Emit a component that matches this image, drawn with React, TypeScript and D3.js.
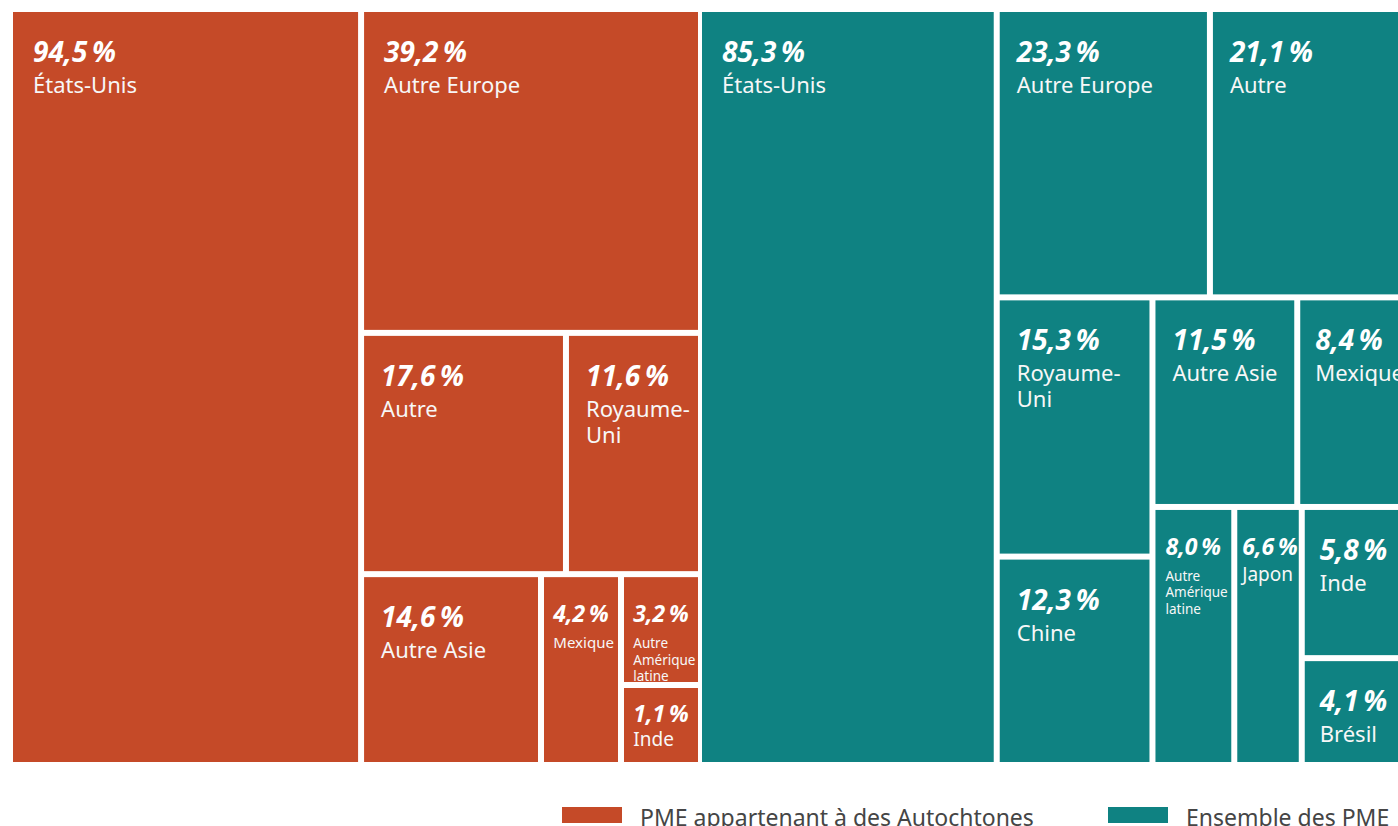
import React from "react";
import * as d3 from "d3";

// PME appartenant à des Autochtones
const autochtonesNames = ["États-Unis", "Autre Europe", "Autre", "Royaume-Uni", "Autre Asie", "Mexique", "Autre Amérique latine", "Inde"];
const autochtonesValues = [94.5, 39.2, 17.6, 11.6, 14.6, 4.2, 3.2, 1.1];
// nesting of the blocks (indices into the arrays above)
const autochtonesTree: any = [0, [1, [2, 3], [4, 5, [6, 7]]]];

// Ensemble des PME
const ensembleNames = ["États-Unis", "Autre Europe", "Autre", "Royaume-Uni", "Chine", "Autre Asie", "Mexique", "Autre Amérique latine", "Japon", "Inde", "Brésil"];
const ensembleValues = [85.3, 23.3, 21.1, 15.3, 12.3, 11.5, 8.4, 8.0, 6.6, 5.8, 4.1];
const ensembleTree: any = [0, [[1, 2], [[3, 4], [[5, 6], [7, 8, [9, 10]]]]]];

const legendLabels = ["PME appartenant à des Autochtones", "Ensemble des PME"];
const colors = ["#c54a28", "#0f8282"];

const FONT = "'Noto Sans', 'Open Sans', sans-serif";
// blocks too thin for their label are widened (sizes include the gap)
const TOO_THIN = 65;
const MIN_EXTENT = 80;

type Leaf = { name: string; value: number };

const buildTree = (node: any, names: string[], values: number[]): any =>
  Array.isArray(node)
    ? { children: node.map((n) => buildTree(n, names, values)) }
    : { name: names[node], value: values[node] };

// slice/dice alternating by depth, with a floor for the tiniest blocks
const tileMin = (parent: any, x0: number, y0: number, x1: number, y1: number) => {
  const horizontal = !(parent.depth & 1);
  const kids = parent.children;
  const total = horizontal ? x1 - x0 : y1 - y0;
  const sizes: (number | null)[] = kids.map((k: any) =>
    (total * k.value) / parent.value < TOO_THIN ? MIN_EXTENT : null
  );
  const fixed = d3.sum(sizes, (s) => s || 0);
  const freeVal = d3.sum(kids, (k: any, i: number) => (sizes[i] === null ? k.value : 0));
  let pos = horizontal ? x0 : y0;
  kids.forEach((k: any, i: number) => {
    const s = sizes[i] !== null ? (sizes[i] as number) : ((total - fixed) * k.value) / freeVal;
    if (horizontal) {
      k.x0 = pos; k.x1 = pos + s; k.y0 = y0; k.y1 = y1;
    } else {
      k.y0 = pos; k.y1 = pos + s; k.x0 = x0; k.x1 = x1;
    }
    pos += s;
  });
};

let ctx: CanvasRenderingContext2D | null = null;
const measure = (text: string, font: string) => {
  if (!ctx) ctx = document.createElement("canvas").getContext("2d");
  if (!ctx) return text.length * 10;
  ctx.font = font;
  return ctx.measureText(text).width;
};

const wrap = (name: string, maxW: number, font: string) => {
  const tokens = name.match(/[^ -]+-?/g) || [name];
  const lines: string[] = [];
  let cur = "";
  tokens.forEach((t) => {
    const next = cur === "" ? t : cur.endsWith("-") ? cur + t : cur + " " + t;
    if (cur !== "" && measure(next, font) > maxW) {
      lines.push(cur);
      cur = t;
    } else cur = next;
  });
  lines.push(cur);
  return lines;
};

const fmt = (v: number) => v.toFixed(1).replace(".", ",") + "\u202F%";

const Treemap = (props: { names: string[]; values: number[]; tree: any; x: number; y: number; w: number; h: number; color: string }) => {
  const { names, values, tree, x, y, w, h, color } = props;
  const root = d3.hierarchy<any>(buildTree(tree, names, values)).sum((d) => d.value || 0);
  d3.treemap<any>().tile(tileMin as any).size([w, h]).paddingInner(6)(root);
  const leaves = root.leaves() as d3.HierarchyRectangularNode<Leaf>[];
  return (
    <g transform={`translate(${x},${y})`}>
      {leaves.map((d, i) => {
        const bw = d.x1 - d.x0;
        const bh = d.y1 - d.y0;
        const big = bw >= 85;
        const short = bh < 90;
        const pctSize = big ? 28 : 23;
        const pctText = fmt(d.data.value);
        let pad = big ? (bw > 250 ? 20 : bw > 120 ? 17 : 15) : 10;
        if (!big) {
          const pw = measure(pctText, `italic 700 ${pctSize}px ${FONT}`);
          pad = Math.max(5, Math.min(10, (bw - pw) / 2));
        }
        let nameSize = big ? 22 : 14;
        const nameFont = (s: number) => `400 ${s}px ${FONT}`;
        let lines = wrap(d.data.name, big ? bw - pad - 6 : bw - pad - 2, nameFont(nameSize));
        if (!big && lines.length > 1) {
          nameSize = 13.5;
          lines = wrap(d.data.name, bw - pad - 2, nameFont(nameSize));
        } else if (!big) {
          nameSize = Math.min(19, Math.max(13, (bw - pad - 4) / (measure(d.data.name, nameFont(1)) || 1)));
        }
        const pctY = big ? 50 : short ? 34 : 45;
        const nameY = big ? 81 : short ? 58 : 71;
        const lh = big ? 26 : 16.5;
        return (
          <g key={i} transform={`translate(${d.x0},${d.y0})`}>
            <rect width={bw} height={bh} fill={color} />
            <text x={pad} y={pctY} fill="#fff" fontFamily={FONT} fontWeight={700} fontStyle="italic" fontSize={pctSize}>
              {pctText}
            </text>
            <text fill="#f7f7f7" fontFamily={FONT} fontSize={nameSize}>
              {lines.map((l, j) => (
                <tspan key={j} x={pad} y={nameY + j * lh}>
                  {l}
                </tspan>
              ))}
            </text>
          </g>
        );
      })}
    </g>
  );
};

const App = () => {
  const width = 1390;
  const height = 818;
  const legendX = [554, 1100];
  // let the page reach the right edge of the window, the chart runs off it
  React.useLayoutEffect(() => {
    document.body.style.marginRight = "0";
  }, []);
  return (
    <svg width={width} height={height} style={{ display: "block" }}>
      <Treemap names={autochtonesNames} values={autochtonesValues} tree={autochtonesTree} x={5} y={4} w={685} h={750} color={colors[0]} />
      <Treemap names={ensembleNames} values={ensembleValues} tree={ensembleTree} x={694} y={4} w={698} h={750} color={colors[1]} />
      {legendLabels.map((l, i) => (
        <g key={l} transform={`translate(${legendX[i]},799)`}>
          <rect width={60} height={16} fill={colors[i]} />
          <text x={78} y={19} fill="#454545" fontFamily={FONT} fontSize={23}>
            {l}
          </text>
        </g>
      ))}
    </svg>
  );
};

export default App;
